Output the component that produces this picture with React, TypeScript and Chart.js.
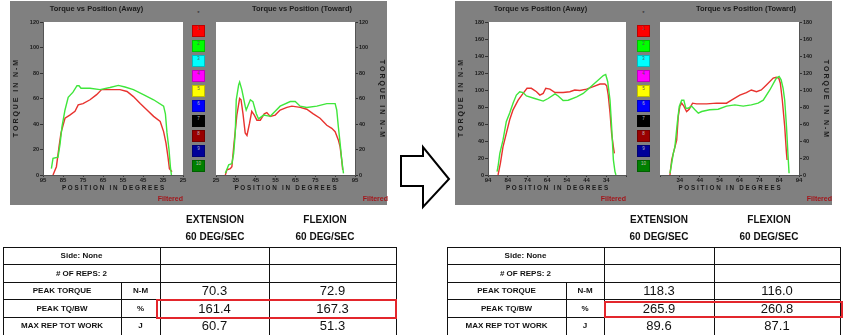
import React, { useEffect, useRef } from "react";
import { Chart, registerables } from "chart.js";

Chart.register(...registerables);

const FONT = "'Liberation Sans', Arial, Helvetica, sans-serif";
Chart.defaults.font.family = FONT;

// ---------- Tick labels ----------
const LEFT_X_TICKS = [25, 35, 45, 55, 65, 75, 85, 95];
const RIGHT_X_TICKS = [24, 34, 44, 54, 64, 74, 84, 94];
const RIGHT_HIDDEN_X = [24];
const LEFT_Y_TICKS = [0, 20, 40, 60, 80, 100, 120];
const RIGHT_Y_TICKS = [0, 20, 40, 60, 80, 100, 120, 140, 160, 180];

// ---------- Left panel: Away ----------
const L_AWAY_GREEN_POS = [90.8, 90, 87.5, 86.5, 85.5, 84, 82.4, 80, 78, 77, 76, 71.5, 66.5, 61.5, 57.3, 54, 49.8, 44.8, 39.7, 34.7, 33.8, 33, 32, 31.3, 30.8];
const L_AWAY_GREEN_TQ = [5, 13, 14, 24, 38, 51, 61, 65, 70, 70, 68, 68, 67, 68.6, 70.3, 69, 67, 63, 59, 54, 48, 33, 20, 6.5, 0];
const L_AWAY_RED_POS = [90, 88.3, 87, 86, 84, 81.6, 79, 77.4, 75, 71.5, 68.2, 65.7, 61.5, 56.5, 53, 49.8, 46.4, 43, 39.7, 36.4, 34.7, 33.5, 32.5, 31.8, 30.5];
const L_AWAY_RED_TQ = [0, 6.5, 22, 33, 44.5, 47, 50, 55, 56, 59, 63, 67, 67, 67, 65.5, 61.5, 56, 51, 46, 42, 34, 25, 14, 5, 2.6];

// ---------- Left panel: Toward ----------
const L_TOW_GREEN_POS = [29.7, 31.4, 33, 33.9, 34.7, 35.2, 36.4, 36.9, 38, 39.7, 40.2, 42.3, 43.6, 45.3, 46.4, 49, 52.3, 54.8, 57.3, 62.4, 64.9, 67.4, 70.7, 75.8, 80.8, 85, 85.8, 86.6, 87.5, 88.3, 89.2];
const L_TOW_GREEN_TQ = [1.3, 8, 9, 17, 33, 59, 70.7, 72.9, 67, 54, 51, 59, 57.6, 48, 44, 47, 46, 50, 54, 57.6, 57.6, 54, 53, 54, 56, 56, 51, 38, 25, 12, 1.3];
const L_TOW_RED_POS = [29.7, 30.5, 32.2, 33, 33.9, 35.5, 36.9, 37.6, 38.6, 39.7, 40.6, 41.9, 43, 44.3, 45.6, 47.3, 49.3, 50.6, 52.3, 54.8, 57.3, 60.7, 63.2, 67.4, 70.7, 74, 77.4, 80.8, 83.3, 85, 86.6, 87.5, 88.3, 88.8];
const L_TOW_RED_TQ = [0, 4, 5, 6.5, 22, 47, 60, 59, 48, 33, 31, 40.6, 50, 47, 43, 43, 48, 49, 46, 47, 51, 53, 54, 53, 51.6, 48, 44.5, 39, 36.6, 34, 27.5, 22, 12, 4];

// ---------- Right panel: Away ----------
const R_AWAY_GREEN_POS = [89.4, 88.9, 88, 86.4, 84.7, 83, 81.3, 79.6, 77.9, 76.2, 74.5, 70.3, 66, 63.5, 60, 58.4, 55.9, 53.3, 49, 45.7, 42.3, 38.9, 35.5, 34.3, 33.3, 32.1, 31.3, 30.4, 29.6, 29.1];
const R_AWAY_GREEN_TQ = [4, 10, 25.5, 41, 63, 73, 84.5, 94, 98, 97, 93, 90, 87, 90, 95.5, 93, 87.7, 88, 92, 96, 103, 110, 117, 118.3, 110, 88, 57, 17.7, 4, 0];
const R_AWAY_RED_POS = [88.9, 87.7, 86.4, 84.7, 83, 81.3, 78.7, 76.2, 74.2, 72, 69.4, 67.7, 66, 64.7, 62.6, 60, 55.9, 52.5, 50, 47.4, 44, 40.6, 37.2, 34.7, 33.8, 33, 32.1, 31.3, 30.4, 29.9];
const R_AWAY_RED_TQ = [0, 14, 33, 49, 65, 76.6, 88, 96, 102, 102, 98, 94, 96, 102, 101, 97, 97, 98, 100, 99.5, 101, 104, 107, 107, 105, 94, 73, 49, 33, 25.5];

// ---------- Right panel: Toward ----------
const R_TOW_GREEN_POS = [29, 29.9, 30.7, 31.5, 32.7, 33.7, 34.9, 36, 37, 38.2, 39.9, 41.6, 43.3, 45, 49, 53.3, 57.5, 61.7, 65.9, 70, 73.4, 76, 79.3, 82.6, 84, 85, 86, 86.8, 87.7, 88.5, 89];
const R_TOW_GREEN_TQ = [2, 14, 25.5, 33, 61, 80.6, 88, 88, 78.6, 78.6, 81, 76.7, 72.7, 74.7, 76.7, 77.4, 81, 82.5, 81, 82.5, 84.5, 88, 100, 114, 116, 112, 102, 88, 57, 21.6, 2];
const R_TOW_RED_POS = [29, 29.9, 30.7, 32.4, 33.2, 34, 34.9, 36, 37.4, 38.7, 40.4, 42.4, 47.5, 52.5, 57.5, 60, 64.2, 67.5, 70, 72.6, 75, 77.6, 81, 82.6, 83.8, 84.6, 85.6, 86.8, 87.7, 88];
const R_TOW_RED_TQ = [0, 17.7, 25.5, 41, 69, 80.6, 84.5, 81, 74.7, 77.4, 84.5, 83.7, 83.7, 84.5, 84.5, 88, 94, 97, 100, 98, 100, 106, 114, 115, 114, 108, 88, 57, 25.5, 17.7];

// ---------- Legend ----------
const LEGEND_COLORS = ["#ff0000", "#00ff00", "#00ffff", "#ff00ff", "#ffff00", "#0000ff", "#000000", "#990000", "#000099", "#008000"];
const LEGEND_LABELS = ["1", "2", "3", "4", "5", "6", "7", "8", "9", "10"];

// ---------- Tables ----------
const ROW_LABELS = ["PEAK TORQUE", "PEAK TQ/BW", "MAX REP TOT WORK"];
const ROW_UNITS = ["N-M", "%", "J"];
const LEFT_EXT = ["70.3", "161.4", "60.7"];
const LEFT_FLEX = ["72.9", "167.3", "51.3"];
const RIGHT_EXT = ["118.3", "265.9", "89.6"];
const RIGHT_FLEX = ["116.0", "260.8", "87.1"];

const RED = "#e8322e";
const GREEN = "#3fe63b";
const GRAY = "#808080";
const TXT = "#1a1a1a";

const whiteArea = {
  id: "whiteArea",
  beforeDraw(chart: any) {
    const { ctx, chartArea: a } = chart;
    ctx.save();
    ctx.fillStyle = "#ffffff";
    ctx.fillRect(a.left, a.top, a.right - a.left, a.bottom - a.top);
    ctx.restore();
  },
};

type Cfg = {
  title: string;
  reverse: boolean;
  xTicks: number[];
  hidden: number[];
  yTicks: number[];
  yPos: "left" | "right";
  padding: { left: number; right: number; top: number; bottom: number };
  gx: number[];
  gy: number[];
  rx: number[];
  ry: number[];
};

function pts(xs: number[], ys: number[]) {
  return xs.map((x, i) => ({ x, y: ys[i] }));
}

function buildConfig(c: Cfg): any {
  return {
    type: "line",
    data: {
      datasets: [
        { data: pts(c.gx, c.gy), borderColor: GREEN, borderWidth: 1.4, pointRadius: 0, fill: false, tension: 0 },
        { data: pts(c.rx, c.ry), borderColor: RED, borderWidth: 1.4, pointRadius: 0, fill: false, tension: 0 },
      ],
    },
    options: {
      animation: false,
      responsive: false,
      events: [],
      layout: { padding: c.padding },
      plugins: {
        legend: { display: false },
        tooltip: { enabled: false },
        title: {
          display: true,
          text: c.title,
          color: TXT,
          font: { size: 7.5, weight: "bold", family: FONT },
          padding: { top: 4.5, bottom: 8.5 },
        },
        subtitle: {
          display: true,
          text: "Filtered",
          position: "bottom",
          align: "end",
          color: "#a3151a",
          font: { size: 7, weight: "bold", family: FONT },
          padding: { top: 2.8, bottom: 1.8 },
        },
      },
      scales: {
        x: {
          type: "linear",
          min: c.xTicks[0],
          max: c.xTicks[c.xTicks.length - 1],
          reverse: c.reverse,
          afterBuildTicks: (s: any) => {
            s.ticks = c.xTicks.map((v) => ({ value: v }));
          },
          afterFit: (s: any) => {
            s.height = 17;
          },
          ticks: {
            autoSkip: false,
            maxRotation: 0,
            padding: 0,
            color: TXT,
            font: { size: 6, weight: "bold", family: FONT },
            callback: (v: any) => (c.hidden.includes(v) ? "" : String(v)),
          },
          grid: { drawOnChartArea: false, drawTicks: true, tickLength: 2, color: "#333" },
          border: { display: true, color: "#555", width: 1 },
          title: {
            display: true,
            text: "P O S I T I O N   I N   D E G R E E S",
            color: TXT,
            font: { size: 6.3, weight: "bold", family: FONT },
            padding: { top: 0, bottom: 0 },
          },
        },
        y: {
          type: "linear",
          position: c.yPos,
          min: c.yTicks[0],
          max: c.yTicks[c.yTicks.length - 1],
          afterBuildTicks: (s: any) => {
            s.ticks = c.yTicks.map((v) => ({ value: v }));
          },
          afterFit: (s: any) => {
            s.width = 33;
          },
          ticks: {
            autoSkip: false,
            padding: 1,
            color: TXT,
            font: { size: 5.5, weight: "bold", family: FONT },
          },
          grid: { drawOnChartArea: false, drawTicks: true, tickLength: 3, color: "#333" },
          border: { display: true, color: "#555", width: 1 },
          title: {
            display: true,
            text: "T O R Q U E   I N   N - M",
            color: TXT,
            font: { size: 7, weight: "bold", family: FONT },
            padding: { top: 2, bottom: 0 },
          },
        },
      },
    },
    plugins: [whiteArea],
  };
}

function ChartBox({ left, top, width, height, cfg }: { left: number; top: number; width: number; height: number; cfg: Cfg }) {
  const ref = useRef<HTMLCanvasElement | null>(null);
  useEffect(() => {
    if (!ref.current) return;
    const chart = new Chart(ref.current, buildConfig(cfg));
    return () => chart.destroy();
  }, []);
  return (
    <canvas
      ref={ref}
      width={width}
      height={height}
      style={{ position: "absolute", left, top, width, height }}
    />
  );
}

function LegendColumn({ left }: { left: number }) {
  return (
    <>
      <div style={{ position: "absolute", left: left, top: 10, width: 13, textAlign: "center", fontSize: 6, color: "#222", fontFamily: FONT }}>*</div>
      {LEGEND_COLORS.map((c, i) => (
        <div
          key={i}
          style={{
            position: "absolute",
            left,
            top: 25 + i * 15,
            width: 13,
            height: 12,
            boxSizing: "border-box",
            background: c,
            border: "1px solid rgba(0,0,0,0.25)",
            fontFamily: FONT,
            fontSize: 4.5,
            lineHeight: "5px",
            textAlign: "center",
            color: i >= 5 ? "#bbbbbb" : "#555555",
          }}
        >
          {LEGEND_LABELS[i]}
        </div>
      ))}
    </>
  );
}

const ROW_TOPS = [247, 264.6, 282.2, 299.8, 317.4];
const ROW_H = 17.6;

function ResultTable({ left, cols, ext, flex, extCenter, flexCenter }: { left: number; cols: number[]; ext: string[]; flex: string[]; extCenter: number; flexCenter: number }) {
  // cols: x positions of vertical lines [outer left, label|unit, unit|ext, ext|flex, outer right]
  const line = "#111";
  const hdr = (text: string, cx: number, cy: number) => (
    <div
      style={{
        position: "absolute",
        left: cx - 50,
        top: cy - 6,
        width: 100,
        textAlign: "center",
        fontWeight: "bold",
        fontSize: 10,
        lineHeight: "12px",
        fontFamily: FONT,
        color: "#111",
      }}
    >
      {text}
    </div>
  );
  const text = (t: string, x0: number, x1: number, row: number, bold: boolean) => (
    <div
      key={t + x0 + row}
      style={{
        position: "absolute",
        left: x0,
        top: ROW_TOPS[row],
        width: x1 - x0,
        height: ROW_H,
        lineHeight: ROW_H + "px",
        textAlign: "center",
        fontFamily: FONT,
        fontWeight: bold ? "bold" : "normal",
        fontSize: bold ? 8 : 13,
        color: "#111",
        whiteSpace: "nowrap",
      }}
    >
      {t}
    </div>
  );
  const [c0, c1, c2, c3, c4] = cols;
  return (
    <>
      {hdr("EXTENSION", extCenter, 220)}
      {hdr("60 DEG/SEC", extCenter, 237)}
      {hdr("FLEXION", flexCenter, 220)}
      {hdr("60 DEG/SEC", flexCenter, 237)}
      {/* horizontal lines */}
      {ROW_TOPS.map((y, i) => (
        <div key={"h" + i} style={{ position: "absolute", left: c0, top: y - 0.5, width: c4 - c0 + 1, height: 1, background: line }} />
      ))}
      {/* vertical lines */}
      {[c0, c2, c3, c4].map((x, i) => (
        <div key={"v" + i} style={{ position: "absolute", left: x - 0.5, top: ROW_TOPS[0], width: 1, height: 335 - ROW_TOPS[0], background: line }} />
      ))}
      <div style={{ position: "absolute", left: c1 - 0.5, top: ROW_TOPS[2], width: 1, height: 335 - ROW_TOPS[2], background: line }} />
      {text("Side: None", c0, c2, 0, true)}
      {text("# OF REPS: 2", c0, c2, 1, true)}
      {ROW_LABELS.map((r, i) => (
        <React.Fragment key={r}>
          {text(r, c0, c1, i + 2, true)}
          {text(ROW_UNITS[i], c1, c2, i + 2, true)}
          {text(ext[i], c2, c3, i + 2, false)}
          {text(flex[i], c3, c4, i + 2, false)}
        </React.Fragment>
      ))}
    </>
  );
}

export default function App() {
  const leftAway: Cfg = {
    title: "Torque vs Position (Away)", reverse: true, xTicks: LEFT_X_TICKS, hidden: [], yTicks: LEFT_Y_TICKS, yPos: "left",
    padding: { left: 0, right: 7, top: 0, bottom: 0 },
    gx: L_AWAY_GREEN_POS, gy: L_AWAY_GREEN_TQ, rx: L_AWAY_RED_POS, ry: L_AWAY_RED_TQ,
  };
  const leftToward: Cfg = {
    title: "Torque vs Position (Toward)", reverse: false, xTicks: LEFT_X_TICKS, hidden: [], yTicks: LEFT_Y_TICKS, yPos: "right",
    padding: { left: 8, right: 0, top: 0, bottom: 0 },
    gx: L_TOW_GREEN_POS, gy: L_TOW_GREEN_TQ, rx: L_TOW_RED_POS, ry: L_TOW_RED_TQ,
  };
  const rightAway: Cfg = {
    title: "Torque vs Position (Away)", reverse: true, xTicks: RIGHT_X_TICKS, hidden: RIGHT_HIDDEN_X, yTicks: RIGHT_Y_TICKS, yPos: "left",
    padding: { left: 0, right: 10, top: 0, bottom: 0 },
    gx: R_AWAY_GREEN_POS, gy: R_AWAY_GREEN_TQ, rx: R_AWAY_RED_POS, ry: R_AWAY_RED_TQ,
  };
  const rightToward: Cfg = {
    title: "Torque vs Position (Toward)", reverse: false, xTicks: RIGHT_X_TICKS, hidden: RIGHT_HIDDEN_X, yTicks: RIGHT_Y_TICKS, yPos: "right",
    padding: { left: 8, right: 0, top: 0, bottom: 0 },
    gx: R_TOW_GREEN_POS, gy: R_TOW_GREEN_TQ, rx: R_TOW_RED_POS, ry: R_TOW_RED_TQ,
  };

  return (
    <div style={{ position: "absolute", left: 0, top: 0, width: 850, height: 335, background: "#fff", overflow: "hidden", fontFamily: FONT }}>
      {/* left panel */}
      <div style={{ position: "absolute", left: 10, top: 1, width: 377, height: 204, background: GRAY }} />
      <ChartBox left={10} top={0} width={180} height={205} cfg={leftAway} />
      <ChartBox left={208} top={0} width={180} height={205} cfg={leftToward} />
      <LegendColumn left={192} />

      {/* right panel */}
      <div style={{ position: "absolute", left: 455, top: 1, width: 377, height: 204, background: GRAY }} />
      <ChartBox left={455} top={0} width={181} height={205} cfg={rightAway} />
      <ChartBox left={652} top={0} width={180} height={205} cfg={rightToward} />
      <LegendColumn left={637} />

      {/* arrow */}
      <svg style={{ position: "absolute", left: 0, top: 0 }} width={850} height={335}>
        <polygon
          points="401,156 423,156 423,147 449,179 423,207 423,186 401,186"
          fill="#ffffff"
          stroke="#000000"
          strokeWidth={2}
          strokeLinejoin="miter"
        />
      </svg>

      <ResultTable left={3} cols={[3, 121, 160, 269, 396]} ext={LEFT_EXT} flex={LEFT_FLEX} extCenter={215} flexCenter={325} />
      <ResultTable left={447} cols={[447, 566, 604, 714, 840]} ext={RIGHT_EXT} flex={RIGHT_FLEX} extCenter={659} flexCenter={769} />

      {/* highlight boxes */}
      <div style={{ position: "absolute", left: 156, top: 299, width: 241, height: 20, boxSizing: "border-box", border: "2px solid #e3262c" }} />
      <div style={{ position: "absolute", left: 604, top: 301, width: 239, height: 17, boxSizing: "border-box", border: "2px solid #e3262c" }} />
    </div>
  );
}
